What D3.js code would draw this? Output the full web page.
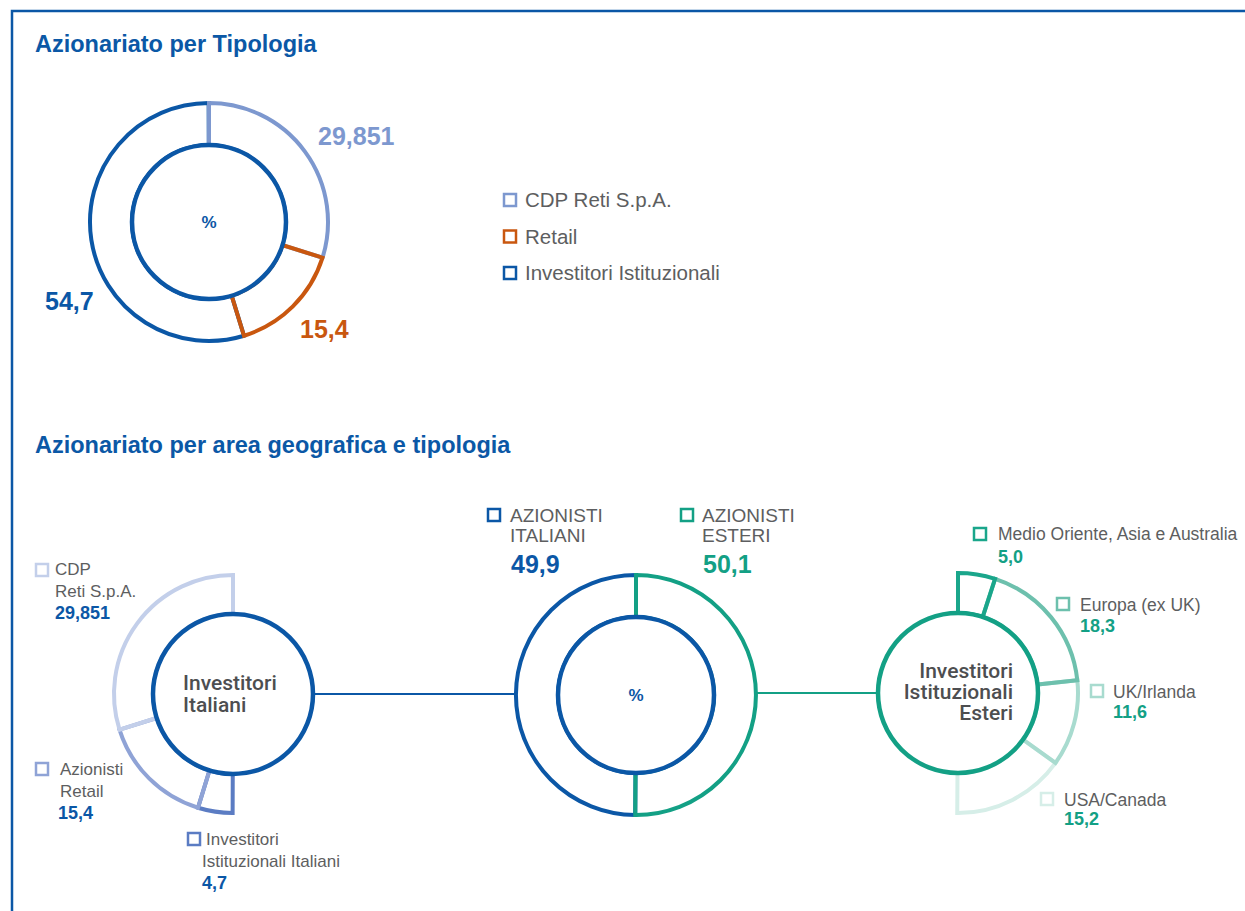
<!DOCTYPE html>
<meta charset="utf-8">
<script src="https://d3js.org/d3.v7.min.js"></script>
<style>
    body { margin: 0; background: #fff; }
    svg text { font-family: "Liberation Sans", Arial, sans-serif; }
    .title { font-weight: bold; font-size: 23.5px; fill: #0b58a6; }
    .lbl { font-size: 17px; fill: #5d5e60; }
    .val { font-weight: bold; font-size: 18px; }
    .big { font-weight: bold; font-size: 25px; }
    .centre { font-family: Roboto, "Liberation Sans", sans-serif; font-weight: 500; font-size: 21px; fill: #4d4e50; }
</style>

<div id="chart"></div>

<script>
    // data, in % of share capital
    var tipoNames = ["CDP Reti S.p.A.", "Retail", "Investitori Istituzionali"];
    var tipoValues = [29.851, 15.4, 54.7];
    var tipoLabels = ["29,851", "15,4", "54,7"];

    var areaNames = ["AZIONISTI ITALIANI", "AZIONISTI ESTERI"];
    var areaValues = [49.9, 50.1];
    var areaLabels = ["49,9", "50,1"];

    var italNames = ["CDP Reti S.p.A.", "Azionisti Retail", "Investitori Istituzionali Italiani"];
    var italValues = [29.851, 15.4, 4.7];
    var italLabels = ["29,851", "15,4", "4,7"];

    var esterNames = ["Medio Oriente, Asia e Australia", "Europa (ex UK)", "UK/Irlanda", "USA/Canada"];
    var esterValues = [5.0, 18.3, 11.6, 15.2];
    var esterLabels = ["5,0", "18,3", "11,6", "15,2"];

    var blue = "#0b57a6", teal = "#13a085", grey = "#5d5e60";
    var tipoColors = ["#7d98cf", "#c9570f", blue];
    var italColors = ["#c3cfea", "#8fa3d6", "#5b7cc3"];
    var esterColors = ["#1aa68b", "#6dc0ad", "#a8dbcf", "#d6eee8"];

    var width = 1245, height = 911;
    var svg = d3.select("#chart").append("svg")
        .attr("width", width)
        .attr("height", height);

    // frame
    svg.append("path")
        .attr("d", "M12,911V11H1245")
        .attr("fill", "none")
        .attr("stroke", blue)
        .attr("stroke-width", 2.5);

    svg.append("text").attr("class", "title").attr("x", 35).attr("y", 52).text("Azionariato per Tipologia");
    svg.append("text").attr("class", "title").attr("x", 35).attr("y", 453).text("Azionariato per area geografica e tipologia");

    // percent -> angle
    var ang = d3.scaleLinear().domain([0, 100]).range([0, 2 * Math.PI]);

    // build segments from a start %, going clockwise (dir 1) or anticlockwise (dir -1)
    function segments(values, colors, start, dir) {
        var acc = start;
        return values.map(function(v, i) {
            var a0 = acc, a1 = acc + dir * v;
            acc = a1;
            return {startAngle: ang(Math.min(a0, a1)), endAngle: ang(Math.max(a0, a1)), color: colors[i], i: i};
        });
    }

    function ring(cx, cy, rIn, rOut, segs, order, innerColor) {
        var g = svg.append("g").attr("transform", "translate(" + cx + "," + cy + ")");
        var arc = d3.arc().innerRadius(rIn).outerRadius(rOut);
        g.selectAll("path.seg")
            .data(order.map(function(k) { return segs[k]; }))
            .enter().append("path")
            .attr("class", "seg")
            .attr("d", arc)
            .attr("fill", "none")
            .attr("stroke", function(d) { return d.color; })
            .attr("stroke-width", 4)
            .attr("stroke-linejoin", "miter");
        g.append("circle")
            .attr("r", rIn)
            .attr("fill", "#fff")
            .attr("stroke", innerColor)
            .attr("stroke-width", 4.5);
        return g;
    }

    function square(x, y, color) {
        svg.append("rect")
            .attr("x", x).attr("y", y)
            .attr("width", 12).attr("height", 12)
            .attr("fill", "#fff")
            .attr("stroke", color)
            .attr("stroke-width", 2.5);
    }

    function lines(x, y, arr, cls, color, dy, anchor) {
        var t = svg.append("text").attr("class", cls).attr("x", x).attr("y", y)
            .attr("text-anchor", anchor || "start");
        if (color) t.style("fill", color);
        arr.forEach(function(s, i) {
            t.append("tspan").attr("x", x).attr("dy", i ? dy : 0).text(s);
        });
        return t;
    }

    // ---- top donut
    var g1 = ring(209, 222, 77, 119, segments(tipoValues, tipoColors, 0, 1), [2, 0, 1], blue);
    g1.append("text").attr("text-anchor", "middle").attr("y", 6)
        .style("font-weight", "bold").style("font-size", "17px").style("fill", blue).text("%");

    svg.append("text").attr("class", "big").attr("x", 318).attr("y", 145).style("fill", tipoColors[0]).text(tipoLabels[0]);
    svg.append("text").attr("class", "big").attr("x", 300).attr("y", 338).style("fill", tipoColors[1]).text(tipoLabels[1]);
    svg.append("text").attr("class", "big").attr("x", 45).attr("y", 310).style("fill", tipoColors[2]).text(tipoLabels[2]);

    tipoNames.forEach(function(n, i) {
        var y = 194 + i * 36.5;
        square(504, y, tipoColors[i]);
        svg.append("text").attr("x", 525).attr("y", y + 13)
            .style("font-size", "20.5px").style("fill", grey).text(n);
    });

    // ---- connectors
    svg.append("line").attr("x1", 313).attr("x2", 516).attr("y1", 694).attr("y2", 694)
        .attr("stroke", blue).attr("stroke-width", 2);
    svg.append("line").attr("x1", 756).attr("x2", 878).attr("y1", 693).attr("y2", 693)
        .attr("stroke", teal).attr("stroke-width", 2);

    // ---- middle donut: Esteri clockwise from the top, Italiani fills the rest
    var areaSegs = segments([areaValues[1], areaValues[0]], [teal, blue], 0, 1);
    var g2 = ring(636, 695, 78, 120, areaSegs, [1, 0], blue);
    g2.append("text").attr("text-anchor", "middle").attr("y", 6)
        .style("font-weight", "bold").style("font-size", "17px").style("fill", blue).text("%");

    square(488, 509, blue);
    lines(510, 522, areaNames[0].split(" "), "lbl", null, 20).style("font-size", "19px");
    svg.append("text").attr("class", "big").attr("x", 511).attr("y", 573).style("fill", blue).text(areaLabels[0]);
    square(681, 509, teal);
    lines(702, 522, areaNames[1].split(" "), "lbl", null, 20).style("font-size", "19px");
    svg.append("text").attr("class", "big").attr("x", 703).attr("y", 573).style("fill", teal).text(areaLabels[1]);

    // ---- left half ring: Italian investors, anticlockwise from the top
    ring(233, 694, 80, 119, segments(italValues, italColors, 100, -1), [2, 1, 0], blue);
    lines(183, 690, ["Investitori", "Italiani"], "centre", null, 22);

    square(36, 564, italColors[0]);
    lines(55, 575, ["CDP", "Reti S.p.A."], "lbl", null, 22);
    svg.append("text").attr("class", "val").attr("x", 55).attr("y", 619).style("fill", blue).text(italLabels[0]);

    square(36, 763, italColors[1]);
    lines(60, 775, ["Azionisti", "Retail"], "lbl", null, 22);
    svg.append("text").attr("class", "val").attr("x", 58).attr("y", 819).style("fill", blue).text(italLabels[1]);

    square(188, 833, italColors[2]);
    var t3 = svg.append("text").attr("class", "lbl").attr("y", 845);
    t3.append("tspan").attr("x", 206).text("Investitori");
    t3.append("tspan").attr("x", 202).attr("dy", 22).text("Istituzionali Italiani");
    svg.append("text").attr("class", "val").attr("x", 202).attr("y", 889).style("fill", blue).text(italLabels[2]);

    // ---- right half ring: foreign institutional investors, clockwise from the top
    ring(958, 693, 80, 120, segments(esterValues, esterColors, 0, 1), [3, 2, 1, 0], teal);
    lines(1013, 678, ["Investitori", "Istituzionali", "Esteri"], "centre", null, 21, "end");

    var esterPos = [[974, 528, 998, 540, 563], [1057, 598, 1080, 611, 632], [1091, 685, 1113, 698, 718], [1041, 793, 1064, 806, 825]];
    esterNames.forEach(function(n, i) {
        var p = esterPos[i];
        square(p[0], p[1], esterColors[i]);
        svg.append("text").attr("class", "lbl").attr("x", p[2]).attr("y", p[3]).style("font-size", "17.5px").text(n);
        svg.append("text").attr("class", "val").attr("x", p[2]).attr("y", p[4]).style("fill", teal).text(esterLabels[i]);
    });
</script>
